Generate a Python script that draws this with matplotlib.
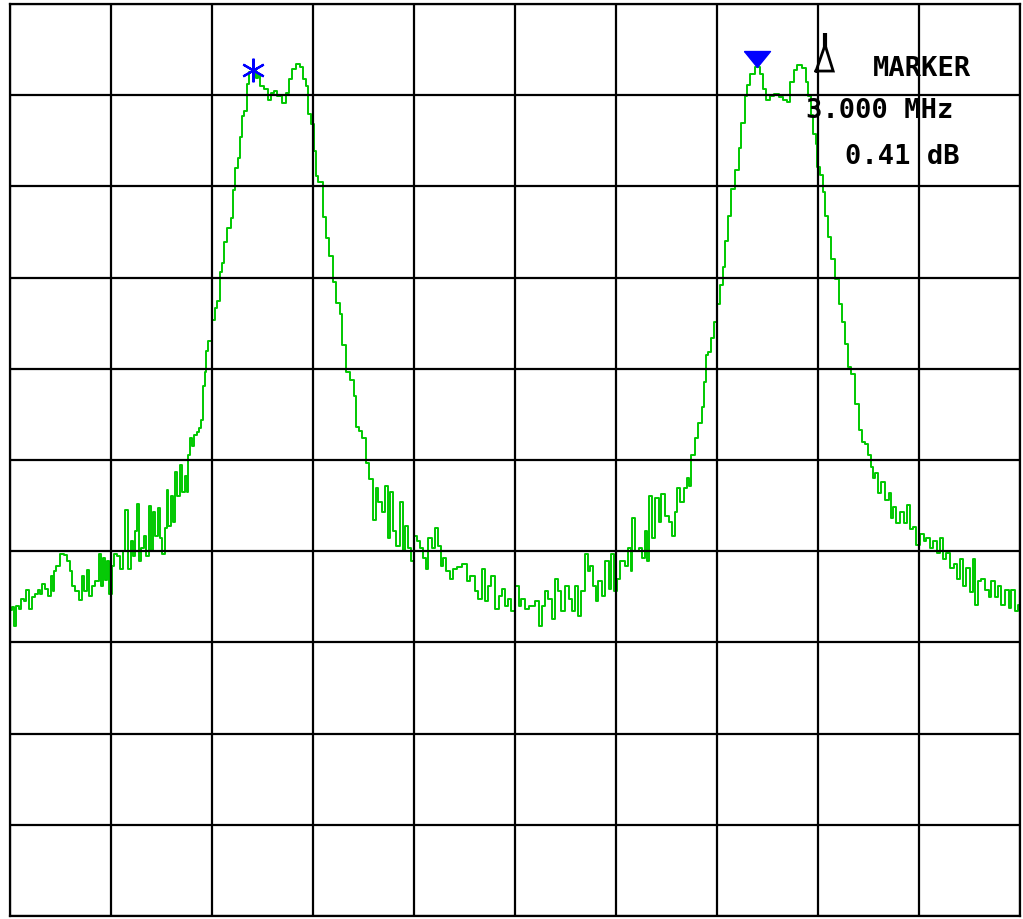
import matplotlib
matplotlib.use("Agg")
import matplotlib.pyplot as plt

# spectrum analyser screen: 0.6 MHz/div, 10 dB/div, top of screen = 0 dB
freq_mhz = [
    0.000, 0.018, 0.030, 0.042, 0.059, 0.077, 0.095, 0.101, 0.119, 0.137,
    0.160, 0.172, 0.190, 0.196, 0.220, 0.232, 0.250, 0.255, 0.267, 0.285,
    0.309, 0.327, 0.345, 0.362, 0.374, 0.398, 0.416, 0.434, 0.451, 0.463,
    0.481, 0.493, 0.517, 0.535, 0.547, 0.558, 0.570, 0.582, 0.594, 0.612,
    0.624, 0.642, 0.665, 0.677, 0.695, 0.707, 0.725, 0.737, 0.749, 0.760,
    0.772, 0.790, 0.802, 0.814, 0.832, 0.844, 0.855, 0.873, 0.885, 0.897,
    0.909, 0.927, 0.933, 0.945, 0.962, 0.974, 0.986, 0.998, 1.016, 1.028,
    1.046, 1.057, 1.063, 1.075, 1.087, 1.099, 1.117, 1.129,
    1.141, 1.152, 1.164, 1.170, 1.188, 1.212, 1.218, 1.242, 1.248, 1.265,
    1.277, 1.301, 1.319, 1.331, 1.343, 1.360, 1.372, 1.384, 1.402, 1.408,
    1.432, 1.450, 1.467, 1.479, 1.497, 1.521, 1.539, 1.562, 1.580, 1.598,
    1.628, 1.651, 1.669, 1.687, 1.711, 1.729, 1.752, 1.764, 1.782, 1.800,
    1.812, 1.818, 1.847, 1.871, 1.889, 1.907, 1.925, 1.949, 1.966, 1.984,
    2.008, 2.032, 2.050, 2.061, 2.085, 2.103, 2.121, 2.150, 2.168, 2.180,
    2.198, 2.216, 2.240, 2.246, 2.269, 2.287, 2.305, 2.329, 2.335, 2.358,
    2.376, 2.394, 2.406, 2.424, 2.447, 2.465, 2.477, 2.495, 2.513, 2.537,
    2.554, 2.566, 2.584, 2.602, 2.626, 2.643, 2.673, 2.703, 2.721, 2.750,
    2.774, 2.792, 2.810, 2.834, 2.851, 2.869, 2.893, 2.911, 2.929, 2.952,
    2.970, 2.988, 3.012, 3.030, 3.047, 3.071, 3.101, 3.131, 3.149, 3.166,
    3.190, 3.208, 3.226, 3.249, 3.267, 3.285, 3.309, 3.327, 3.345, 3.368,
    3.386, 3.404, 3.428, 3.434, 3.457, 3.475, 3.487, 3.505, 3.523, 3.547,
    3.564, 3.582, 3.594, 3.612, 3.636, 3.665, 3.683, 3.695, 3.701, 3.725,
    3.743, 3.760, 3.784, 3.790, 3.802, 3.820, 3.844, 3.861, 3.879, 3.903,
    3.921, 3.939, 3.962, 3.968, 3.992, 4.010, 4.028, 4.040, 4.057, 4.081,
    4.099, 4.117, 4.129, 4.141, 4.158, 4.176, 4.194, 4.206, 4.230, 4.236,
    4.259, 4.277, 4.295, 4.319, 4.337, 4.354, 4.378, 4.384, 4.408, 4.438,
    4.467, 4.485, 4.497, 4.527, 4.556, 4.586, 4.604, 4.622, 4.646, 4.663,
    4.693, 4.717, 4.735, 4.752, 4.764, 4.782, 4.794, 4.800, 4.824, 4.830,
    4.853, 4.871, 4.889, 4.913, 4.931, 4.949, 4.972, 4.990, 5.008, 5.032,
    5.050, 5.067, 5.091, 5.109, 5.121, 5.127, 5.150, 5.168, 5.186, 5.210,
    5.228, 5.240, 5.257, 5.275, 5.299, 5.317, 5.335, 5.358, 5.376, 5.394,
    5.418, 5.436, 5.453, 5.477, 5.495, 5.513, 5.537, 5.554, 5.572, 5.596,
    5.614, 5.632, 5.655, 5.673, 5.691, 5.715, 5.721, 5.744, 5.762, 5.780,
    5.804, 5.822, 5.839, 5.863, 5.881, 5.899, 5.923, 5.941, 5.958, 5.982,
    6.000,
]
level_db = [
    -66.5, -66.1, -68.2, -66.0, -66.3, -65.2, -65.5, -64.3, -66.3, -65.0,
    -64.7, -64.3, -64.7, -63.6, -64.1, -64.9, -62.7, -64.4, -62.2, -61.6,
    -60.3, -60.4, -61.1, -62.2, -63.8, -64.4, -65.4, -62.7, -64.4, -62.1,
    -64.9, -63.8, -63.3, -60.3, -63.8, -60.8, -63.2, -61.1, -64.7, -61.6,
    -60.3, -60.5, -61.9, -60.0, -55.5, -61.9, -58.9, -60.5, -57.8, -54.8,
    -61.1, -59.7, -58.3, -60.5, -55.0, -60.0, -55.7, -58.3, -55.3, -58.6,
    -60.3, -57.5, -53.3, -57.2, -53.9, -56.8, -51.3, -53.9, -50.6, -53.5,
    -51.7, -53.5, -49.5, -47.6, -48.5, -47.3, -46.9, -46.5,
    -45.6, -41.9, -40.4, -38.1, -37.0, -34.7, -33.3, -32.6, -29.4, -28.4,
    -26.1, -24.6, -23.5, -20.4, -18.0, -16.9, -14.6, -12.3, -11.7, -8.8,
    -7.5, -7.2, -8.1, -7.7, -9.0, -9.3, -10.5, -9.8, -9.5, -10.1,
    -10.9, -9.8, -8.2, -7.1, -6.6, -6.9, -8.2, -9.0, -12.1, -13.2,
    -16.1, -18.9, -19.5, -23.4, -25.7, -27.6, -30.5, -32.8, -34.0, -37.4,
    -40.4, -41.2, -43.0, -46.4, -46.8, -47.6, -50.3, -52.1, -56.6, -53.1,
    -54.6, -55.7, -52.8, -58.6, -53.5, -57.8, -59.4, -54.6, -60.0, -57.2,
    -59.7, -61.1, -58.3, -58.9, -59.7, -60.8, -61.9, -58.6, -59.7, -57.5,
    -59.4, -61.6, -60.8, -62.2, -63.0, -61.9, -61.7, -61.4, -63.3, -62.7,
    -64.4, -65.2, -61.9, -65.5, -63.8, -62.7, -66.3, -64.9, -64.1, -66.0,
    -65.2, -66.6, -63.8, -66.0, -65.2, -66.3, -66.0, -65.5, -68.2, -66.0,
    -64.4, -65.2, -67.4, -63.0, -64.4, -66.6, -63.8, -65.2, -66.6, -63.8,
    -67.1, -64.4, -60.3, -62.2, -61.6, -63.8, -65.5, -63.3, -64.9, -61.1,
    -64.1, -60.3, -64.4, -63.0, -61.1, -61.6, -59.7, -62.2, -56.4, -60.0,
    -59.7, -60.8, -57.8, -61.1, -53.9, -58.6, -54.2, -56.8, -53.7, -56.1,
    -56.8, -58.3, -55.7, -53.1, -54.6, -53.1, -52.0, -52.8, -49.5, -47.6,
    -45.9, -44.2, -41.4, -38.5, -38.2, -36.6, -34.9, -32.9, -30.8, -28.8,
    -26.0, -23.2, -20.3, -18.2, -15.8, -13.0, -10.1, -8.9, -7.7, -6.9,
    -7.7, -9.3, -10.5, -10.1, -9.9, -10.2, -10.5, -10.8, -8.5, -7.2,
    -6.7, -7.0, -8.5, -10.1, -12.2, -14.2, -15.4, -17.9, -18.7, -20.6,
    -23.2, -25.6, -28.0, -30.1, -32.9, -34.9, -37.3, -39.8, -40.6, -43.9,
    -46.7, -48.0, -48.3, -49.5, -50.8, -52.0, -51.4, -53.6, -52.4, -54.4,
    -53.6, -56.4, -55.2, -56.9, -55.7, -56.9, -54.9, -57.6, -57.3, -59.3,
    -58.1, -58.9, -58.5, -59.7, -58.9, -60.2, -58.5, -60.9, -60.2, -61.8,
    -61.4, -63.0, -60.9, -63.8, -61.8, -64.5, -60.9, -65.9, -63.3, -63.0,
    -64.2, -65.0, -63.3, -65.0, -63.8, -65.9, -64.2, -66.2, -64.2, -66.6,
    -65.9,
]

# markers: normal marker (*) on first peak, delta marker (triangle) on second
marker_freq = [1.444, 4.438]
marker_level = [-7.2, -6.9]
delta_freq_text = "3.000 MHz"
delta_level_text = "0.41 dB"

fig = plt.figure(figsize=(10.23, 9.2), dpi=100)
ax = fig.add_axes([10 / 1023, 3 / 920, 1010 / 1023, 912 / 920])

# stair-stepped trace like the analyser display
ax.plot(freq_mhz, level_db, color="#00c800", lw=1.4, zorder=2,
        drawstyle="steps-mid")

# asterisk marker
ax.plot(marker_freq[0], marker_level[0], linestyle="none",
        marker=(6, 2, 0), markersize=17, markeredgewidth=1.6,
        color="#0000ff", zorder=4)

# filled triangle sitting with its tip on the trace
tri = [(-13, 16), (13, 16), (0, 0), (-13, 16)]
ax.plot(marker_freq[1], marker_level[1], linestyle="none",
        marker=tri, markersize=23, color="#0000ff", zorder=4)

# delta-marker glyph and readout
ax.plot([0.798, 0.807, 0.815, 0.798], [0.9265, 0.955, 0.9265, 0.9265],
        color="black", lw=2.0, transform=ax.transAxes, zorder=5,
        solid_joinstyle="miter")
ax.plot([0.807, 0.807], [0.952, 0.968], color="black", lw=3.0,
        transform=ax.transAxes, zorder=5, solid_capstyle="butt")

txt = dict(family="DejaVu Sans Mono", weight="bold", fontsize=19.5,
           color="black", transform=ax.transAxes, zorder=6)
ax.text(0.903, 0.922, "MARKER", ha="center", va="baseline", **txt)
ax.text(0.8614, 0.876, delta_freq_text, ha="center", va="baseline", **txt)
ax.text(0.8837, 0.8254, delta_level_text, ha="center", va="baseline", **txt)

# 10 x 10 graticule
ax.set_xlim(0, 6.0)
ax.set_ylim(-100, 0)
ax.set_xticks([i * 0.6 for i in range(11)])
ax.set_yticks([-100 + i * 10 for i in range(11)])
ax.set_xticklabels([])
ax.set_yticklabels([])
ax.tick_params(length=0)
ax.set_axisbelow(False)
ax.grid(True, color="black", lw=1.6)
for s in ax.spines.values():
    s.set_linewidth(1.6)
    s.set_color("black")

fig.savefig("out.png", dpi=100, facecolor="white")
